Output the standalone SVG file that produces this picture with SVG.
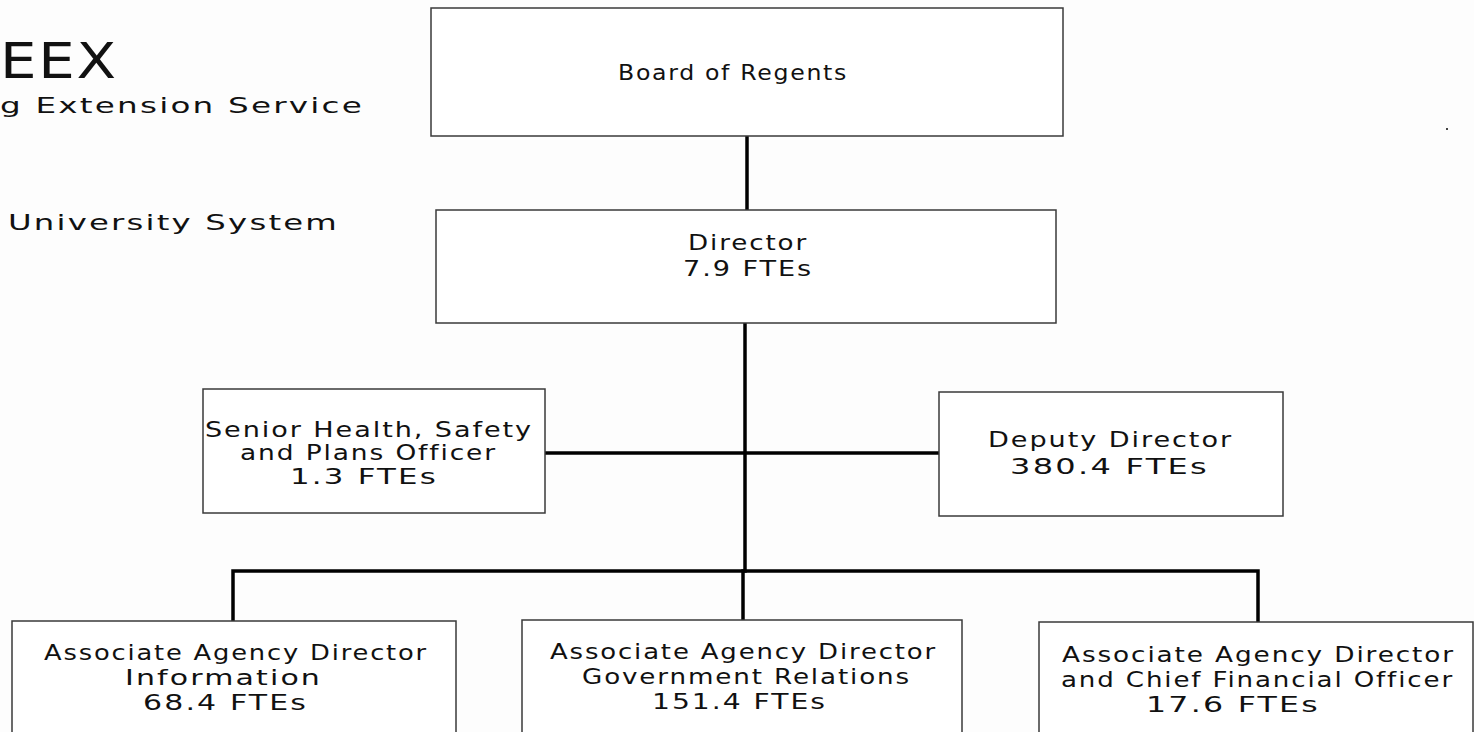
<svg xmlns="http://www.w3.org/2000/svg" width="1474" height="732" viewBox="0 0 1474 732">
<style>
.box{fill:#ffffff;stroke:#3a3a3a;stroke-width:1.5}
.t{font-family:"DejaVu Sans",Verdana,"Noto Sans",sans-serif;font-size:21px;letter-spacing:1.5px;fill:#111}
.h{font-family:"DejaVu Sans",Verdana,"Noto Sans",sans-serif;letter-spacing:1.5px;fill:#111}
.c{fill:none;stroke:#000;stroke-width:3.5;stroke-linecap:square}
</style>
<rect x="0" y="0" width="1474" height="732" fill="#fdfdfd"/>
<g id="title">
<text class="h" x="0" y="78" font-size="49" textLength="118" lengthAdjust="spacingAndGlyphs">EEX</text>
<text class="h" x="0" y="113" font-size="22" textLength="364" lengthAdjust="spacingAndGlyphs">g Extension Service</text>
<text class="h" x="8" y="230" font-size="22" textLength="331" lengthAdjust="spacingAndGlyphs">University System</text>
</g>
<g id="connectors">
<line class="c" x1="747" y1="136" x2="747" y2="210"/>
<line class="c" x1="745" y1="323" x2="745" y2="571"/>
<line class="c" x1="545" y1="453" x2="939" y2="453"/>
<polyline class="c" points="233,621 233,571 1258,571 1258,622"/>
<line class="c" x1="743" y1="571" x2="743" y2="620"/>
</g>
<g id="board">
<rect class="box" x="431" y="8" width="632" height="128"/>
<text class="t" x="618" y="80" textLength="230" lengthAdjust="spacingAndGlyphs">Board of Regents</text>
</g>
<g id="director">
<rect class="box" x="436" y="210" width="620" height="113"/>
<text class="t" x="688" y="250" textLength="120" lengthAdjust="spacingAndGlyphs">Director</text>
<text class="t" x="683" y="276" textLength="130" lengthAdjust="spacingAndGlyphs">7.9 FTEs</text>
</g>
<g id="senior">
<rect class="box" x="203" y="389" width="342" height="124"/>
<text class="t" x="205" y="437" textLength="328" lengthAdjust="spacingAndGlyphs">Senior Health, Safety</text>
<text class="t" x="240" y="460" textLength="257" lengthAdjust="spacingAndGlyphs">and Plans Officer</text>
<text class="t" x="290" y="484" textLength="148" lengthAdjust="spacingAndGlyphs">1.3 FTEs</text>
</g>
<g id="deputy">
<rect class="box" x="939" y="392" width="344" height="124"/>
<text class="t" x="988" y="447" textLength="245" lengthAdjust="spacingAndGlyphs">Deputy Director</text>
<text class="t" x="1010" y="474" textLength="199" lengthAdjust="spacingAndGlyphs">380.4 FTEs</text>
</g>
<g id="info">
<rect class="box" x="12" y="621" width="444" height="125"/>
<text class="t" x="44" y="660" textLength="384" lengthAdjust="spacingAndGlyphs">Associate Agency Director</text>
<text class="t" x="125" y="685" textLength="197" lengthAdjust="spacingAndGlyphs">Information</text>
<text class="t" x="143" y="710" textLength="165" lengthAdjust="spacingAndGlyphs">68.4 FTEs</text>
</g>
<g id="gov">
<rect class="box" x="522" y="620" width="440" height="126"/>
<text class="t" x="550" y="659" textLength="387" lengthAdjust="spacingAndGlyphs">Associate Agency Director</text>
<text class="t" x="582" y="684" textLength="329" lengthAdjust="spacingAndGlyphs">Government Relations</text>
<text class="t" x="652" y="709" textLength="175" lengthAdjust="spacingAndGlyphs">151.4 FTEs</text>
</g>
<g id="cfo">
<rect class="box" x="1039" y="622" width="434" height="124"/>
<text class="t" x="1062" y="662" textLength="393" lengthAdjust="spacingAndGlyphs">Associate Agency Director</text>
<text class="t" x="1061" y="687" textLength="393" lengthAdjust="spacingAndGlyphs">and Chief Financial Officer</text>
<text class="t" x="1146" y="712" textLength="174" lengthAdjust="spacingAndGlyphs">17.6 FTEs</text>
</g>
<rect x="1446" y="128" width="2" height="2" fill="#444"/>
</svg>
